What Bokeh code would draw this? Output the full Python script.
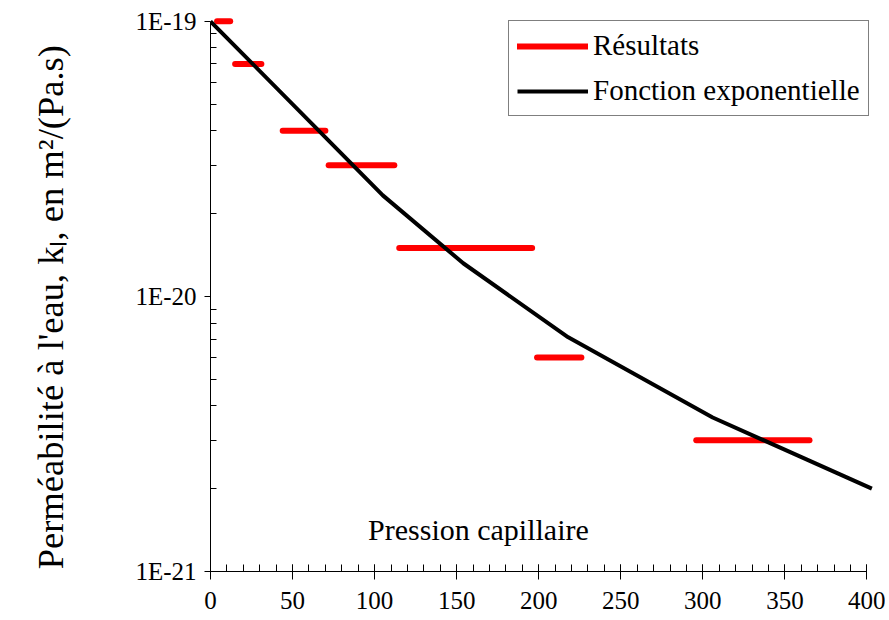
import math
from bokeh.plotting import figure
from bokeh.models import (Range1d, FixedTicker, SingleIntervalTicker, LogAxis,
                          CustomJSTickFormatter, Label, Legend, LegendItem)
from bokeh.embed import file_html
from bokeh.resources import INLINE

# ---------------- data ----------------
result_p_start = [4, 15, 44, 72, 115, 199, 296]
result_p_end = [12, 31, 70, 112, 196, 226, 365]
result_k = [1.0e-19, 7.0e-20, 4.0e-20, 3.0e-20, 1.5e-20, 6.0e-21, 3.0e-21]

fit_p = [0, 105, 154, 218, 306, 403]
fit_k = [1.0e-19, 2.33e-20, 1.32e-20, 7.1e-21, 3.63e-21, 2.0e-21]

x_tick_interval = 50
y_major_ticks = [1e-21, 1e-20, 1e-19]
y_tick_labels = ["1E-21", "1E-20", "1E-19"]
y_minor_ticks = [m * d for d in (1e-21, 1e-20) for m in range(2, 10)]

series_names = ["Résultats", "Fonction exponentielle"]
y_title = "Perméabilité à l'eau, kₗ, en m²/(Pa.s)"
x_title = "Pression capillaire"

FONT = "Liberation Serif"

p = figure(width=885, height=618, y_axis_type="log",
           x_range=Range1d(0, 404), y_range=Range1d(1e-21, 1.05e-19),
           output_backend="svg", toolbar_location=None,
           min_border_left=210, min_border_right=12,
           min_border_top=15, min_border_bottom=47)
p.outline_line_color = None
p.xgrid.visible = False
p.ygrid.visible = False
p.background_fill_color = "white"
p.border_fill_color = "white"

# x axis
xa = p.xaxis[0]
xa.ticker = SingleIntervalTicker(interval=x_tick_interval, num_minor_ticks=5)
xa.bounds = (0, 400)
xa.axis_line_color = "black"
xa.major_tick_in = 7
xa.major_tick_out = 8
xa.minor_tick_in = 7
xa.minor_tick_out = 0
xa.major_tick_line_color = "black"
xa.minor_tick_line_color = "black"
xa.major_label_text_font = FONT
xa.major_label_text_font_size = "25px"
xa.major_label_text_color = "black"
xa.major_label_standoff = 12

# y axis (ticks and tick labels)
ya = p.yaxis[0]
ya.ticker = FixedTicker(ticks=y_major_ticks, minor_ticks=y_minor_ticks)
ya.formatter = CustomJSTickFormatter(args=dict(vals=y_major_ticks, labs=y_tick_labels), code="""
    for (let i = 0; i < vals.length; i++) {
        if (Math.abs(Math.log10(tick) - Math.log10(vals[i])) < 1e-6) return labs[i];
    }
    return "";
""")
ya.bounds = (1e-21, 1e-19)
ya.axis_line_color = "black"
ya.major_tick_in = 0
ya.major_tick_out = 6
ya.minor_tick_in = 6
ya.minor_tick_out = 0
ya.major_tick_line_color = "black"
ya.minor_tick_line_color = "black"
ya.major_label_text_font = FONT
ya.major_label_text_font_size = "25px"
ya.major_label_text_color = "black"
ya.major_label_standoff = 8

# second (invisible) left axis that only carries the title
ta = LogAxis(ticker=FixedTicker(ticks=[], minor_ticks=[]),
             bounds=(1e-21, 1e-19),
             axis_line_color=None, major_tick_in=0, major_tick_out=0,
             minor_tick_in=0, minor_tick_out=0, major_label_standoff=0,
             axis_label=y_title + "\u00a0\u00a0\u00a0", axis_label_text_font=FONT,
             axis_label_text_font_size="36.5px", axis_label_text_font_style="normal",
             axis_label_text_color="black", axis_label_standoff=62)
p.add_layout(ta, "left")

# glyphs
r_res = p.segment(x0=result_p_start, y0=result_k, x1=result_p_end, y1=result_k,
                  line_color="#FF0000", line_width=6, line_cap="round")
r_fit = p.line(fit_p, fit_k, line_color="black", line_width=4)

legend = Legend(items=[LegendItem(label=series_names[0], renderers=[r_res]),
                       LegendItem(label=series_names[1], renderers=[r_fit])],
                location=(298, 455))
legend.border_line_color = "black"
legend.border_line_width = 1
legend.background_fill_color = "white"
legend.background_fill_alpha = 1
legend.label_text_font = FONT
legend.label_text_font_size = "29px"
legend.label_text_color = "black"
legend.padding = 8
legend.spacing = 12
legend.label_height = 30
legend.glyph_height = 30
legend.glyph_width = 71
legend.label_standoff = 5
legend.margin = 0
p.add_layout(legend, "center")

p.add_layout(Label(x=96, y=1.42e-21, text=x_title,
                   text_align="left", text_baseline="alphabetic",
                   text_font=FONT, text_font_size="30px", text_color="black"))

open("out.html", "w").write(file_html(p, INLINE))
